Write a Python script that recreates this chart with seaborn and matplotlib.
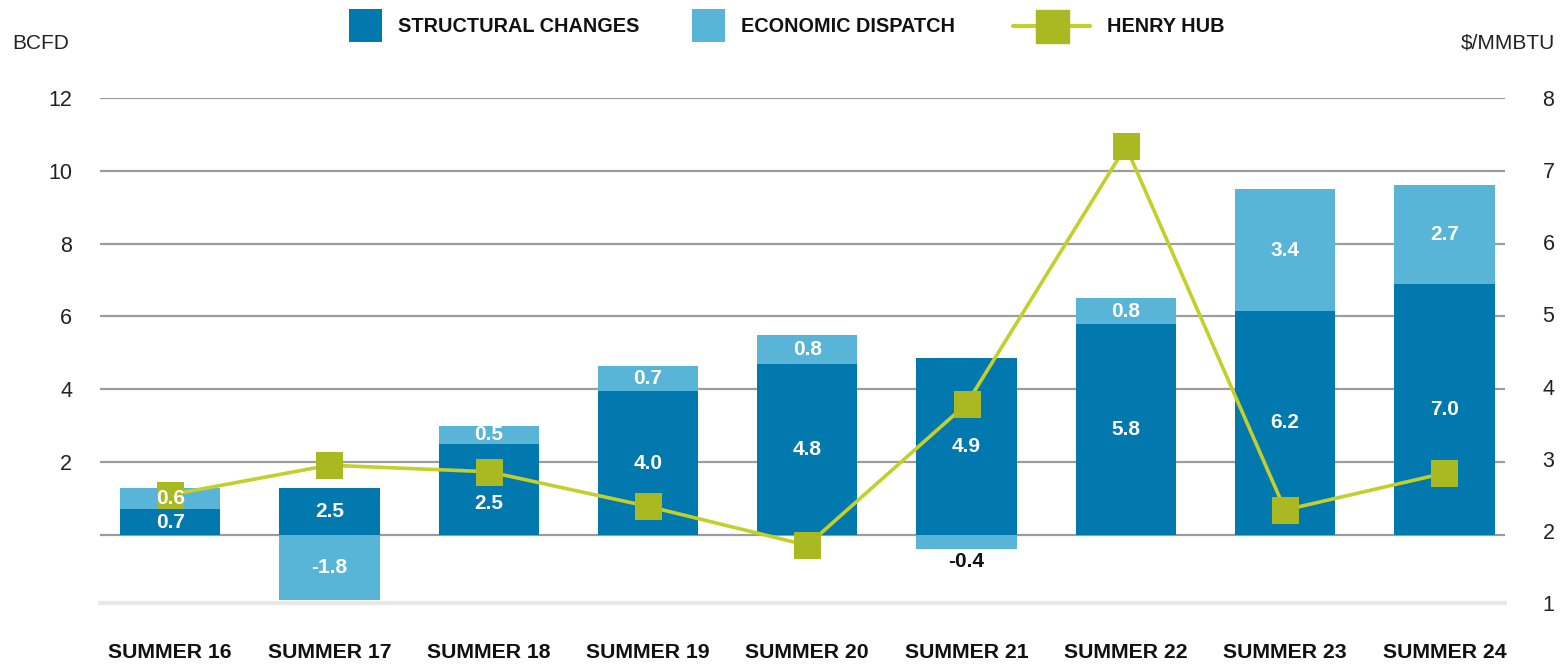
import numpy as np
import matplotlib
matplotlib.use('Agg')
import matplotlib.pyplot as plt
import seaborn as sns
from matplotlib.patches import Rectangle
from matplotlib.lines import Line2D

# data
seasons = ['SUMMER 16', 'SUMMER 17', 'SUMMER 18', 'SUMMER 19', 'SUMMER 20',
           'SUMMER 21', 'SUMMER 22', 'SUMMER 23', 'SUMMER 24']
structural = [0.7, 1.3, 2.5, 3.95, 4.7, 4.85, 5.8, 6.15, 6.9]
economic = [0.6, -1.8, 0.5, 0.7, 0.8, -0.4, 0.7, 3.35, 2.7]
structural_labels = ['0.7', '2.5', '2.5', '4.0', '4.8', '4.9', '5.8', '6.2', '7.0']
economic_labels = ['0.6', '-1.8', '0.5', '0.7', '0.8', '-0.4', '0.8', '3.4', '2.7']
henry_hub = [2.50, 2.91, 2.82, 2.34, 1.80, 3.76, 7.33, 2.29, 2.80]

left_ticks = [0, 2, 4, 6, 8, 10, 12]
left_ticklabels = ['', '2', '4', '6', '8', '10', '12']
right_ticks = [1, 2, 3, 4, 5, 6, 7, 8]

DARK = '#0178AE'
LIGHT = '#59B5D7'
GREEN = '#AAB821'
GREEN_LINE = '#C3CF2B'

sns.set_theme(style='white')
plt.rcParams['font.family'] = ['Liberation Sans', 'DejaVu Sans']

W, H = 1568, 665
fig = plt.figure(figsize=(W / 100, H / 100), dpi=100)
ax = fig.add_axes([0.0638, 0.0932, 0.8960, 0.7594])

x = np.arange(len(seasons))
econ_bottom = [s if e > 0 else 0 for s, e in zip(structural, economic)]

sns.barplot(x=seasons, y=structural, color=DARK, width=0.63, errorbar=None,
            saturation=1, ax=ax, linewidth=0, zorder=2)
sns.barplot(x=seasons, y=economic, color=LIGHT, width=0.63, errorbar=None,
            saturation=1, ax=ax, linewidth=0, bottom=econ_bottom, zorder=2)

ax.set_xlim(-0.44, 8.38)
ax.set_ylim(-1.87, 12)
ax.set_yticks(left_ticks)
ax.set_yticklabels(left_ticklabels)
ax.set_axisbelow(True)
ax.yaxis.grid(True, color='#9c9c9c', linewidth=1.6)
ax.xaxis.grid(False)
for side in ['top', 'left', 'right']:
    ax.spines[side].set_visible(False)
ax.spines['bottom'].set_color('#e8e8e8')
ax.spines['bottom'].set_linewidth(3)
ax.tick_params(axis='y', length=0, pad=20, labelsize=15.5, labelcolor='#222222')
ax.tick_params(axis='x', length=0, pad=29, labelsize=15.3)
for lab in ax.get_xticklabels():
    lab.set_fontweight('bold')
    lab.set_color('#111111')
ax.set_xlabel('')
ax.set_ylabel('')

# Henry Hub on the right axis
ax2 = ax.twinx()
sns.lineplot(x=x, y=henry_hub, ax=ax2, color=GREEN_LINE, linewidth=2.6,
             marker='s', markersize=19, markerfacecolor=GREEN,
             markeredgecolor=GREEN, zorder=6)
ax2.set_ylim(1, 8)
ax2.set_yticks(right_ticks)
ax2.grid(False)
for side in ['top', 'left', 'right', 'bottom']:
    ax2.spines[side].set_visible(False)
ax2.tick_params(axis='y', length=0, pad=27, labelsize=15.5, labelcolor='#222222')
ax2.set_ylabel('')

# value labels (drawn on ax2 so they sit above the Henry Hub line)
nudge = {2: -0.4}  # summer 18 label sits below the marker
for i in range(len(seasons)):
    ax2.text(i, structural[i] / 2 + nudge.get(i, 0), structural_labels[i],
             transform=ax.transData, ha='center', va='center',
             color='white', fontsize=15, fontweight='bold', zorder=8)
    if economic[i] < 0 and abs(economic[i]) < 1:
        ax2.text(i, economic[i] - 0.08, economic_labels[i], transform=ax.transData,
                 ha='center', va='top', color='#111111', fontsize=15,
                 fontweight='bold', zorder=8)
    else:
        ax2.text(i, econ_bottom[i] + economic[i] / 2, economic_labels[i],
                 transform=ax.transData, ha='center', va='center',
                 color='white', fontsize=15, fontweight='bold', zorder=8)

fig.text(0.008, 0.935, 'BCFD', fontsize=15, color='#222222', va='center', ha='left')
fig.text(0.992, 0.935, '$/MMBTU', fontsize=15, color='#222222', va='center', ha='right')

# legend along the top, laid out in pixels
leg_y = 1 - 25.5 / H
box = 33
for color, label, x0 in [(DARK, 'STRUCTURAL CHANGES', 349), (LIGHT, 'ECONOMIC DISPATCH', 692)]:
    fig.add_artist(Rectangle((x0 / W, leg_y - box / 2 / H), box / W, box / H,
                             transform=fig.transFigure, facecolor=color, edgecolor='none'))
    fig.text((x0 + box + 16) / W, leg_y - 1 / H, label, fontsize=14.3, fontweight='bold',
             color='#111111', va='center', ha='left')
fig.add_artist(Line2D([1013 / W, 1090 / W], [leg_y, leg_y], transform=fig.transFigure,
                      color=GREEN_LINE, linewidth=3))
fig.add_artist(Line2D([1051.5 / W], [leg_y], transform=fig.transFigure, marker='s',
                      markersize=box * 0.72, markerfacecolor=GREEN, markeredgecolor=GREEN,
                      linestyle='none'))
fig.text(1107 / W, leg_y - 1 / H, 'HENRY HUB', fontsize=14.3, fontweight='bold',
         color='#111111', va='center', ha='left')

fig.savefig('out.png', dpi=100)
